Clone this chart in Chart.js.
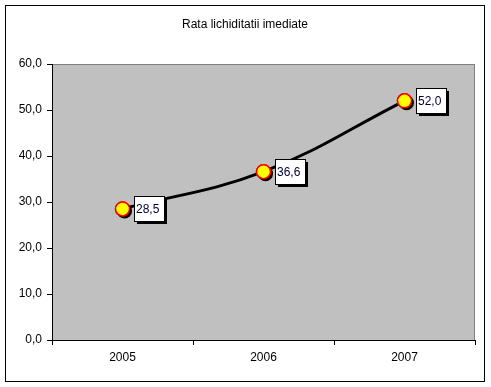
<!DOCTYPE html>
<html>
<head>
<meta charset="utf-8">
<script src="https://cdn.jsdelivr.net/npm/chart.js@4"></script>
<style>
  body { margin: 0; background: #fff; }
  #wrap { width: 491px; height: 387px; }
</style>
</head>
<body>
<div id="wrap"><canvas id="lineChart" width="491" height="387"></canvas></div>
<script>
var years = ["2005", "2006", "2007"];
var rataValues = [28.5, 36.6, 52.0];
var chartTitle = "Rata lichiditatii imediate";

function fmt(v) {
  return v.toFixed(1).replace('.', ',');
}

// frame, title, grey plot area and value boxes
var excelLook = {
  id: 'excelLook',
  beforeDraw: function(chart) {
    var ctx = chart.ctx, a = chart.chartArea;
    ctx.save();
    ctx.fillStyle = '#fff';
    ctx.fillRect(0, 0, chart.width, chart.height);
    ctx.strokeStyle = '#000';
    ctx.lineWidth = 1;
    ctx.strokeRect(5.5, 5.5, 479, 376);
    ctx.fillStyle = '#c0c0c0';
    ctx.fillRect(a.left, a.top, a.right - a.left, a.bottom - a.top);
    ctx.strokeStyle = '#808080';
    ctx.strokeRect(a.left + 0.5, a.top + 0.5, a.right - a.left - 1, a.bottom - a.top);
    ctx.fillStyle = '#000';
    ctx.font = '12px "Liberation Sans", Arial, sans-serif';
    ctx.textAlign = 'center';
    ctx.textBaseline = 'middle';
    ctx.fillText(chartTitle, 245, 25);
    ctx.restore();
  },
  afterDatasetsDraw: function(chart) {
    var ctx = chart.ctx;
    var meta = chart.getDatasetMeta(0);
    ctx.save();
    // marker shadows + markers redrawn on top
    meta.data.forEach(function(pt) {
      ctx.beginPath();
      ctx.arc(pt.x + 2, pt.y + 2, 7.5, 0, Math.PI * 2);
      ctx.fillStyle = '#000';
      ctx.fill();
      ctx.beginPath();
      ctx.arc(pt.x, pt.y, 7, 0, Math.PI * 2);
      ctx.fillStyle = '#ffff00';
      ctx.fill();
      ctx.lineWidth = 1.5;
      ctx.strokeStyle = '#ff0000';
      ctx.stroke();
    });
    ctx.font = '12px "Liberation Sans", Arial, sans-serif';
    ctx.textBaseline = 'middle';
    ctx.textAlign = 'left';
    meta.data.forEach(function(pt, i) {
      var bx = Math.round(pt.x + 11), by = Math.round(pt.y - 13);
      var w = 30, h = 25;
      ctx.fillStyle = '#000';
      ctx.fillRect(bx + 3, by + 3, w, h);
      ctx.fillStyle = '#fff';
      ctx.fillRect(bx, by, w, h);
      ctx.strokeStyle = '#000';
      ctx.lineWidth = 1;
      ctx.strokeRect(bx + 0.5, by + 0.5, w, h);
      ctx.fillStyle = '#000033';
      ctx.fillText(fmt(rataValues[i]), bx + 2, by + h / 2 + 1);
    });
    ctx.restore();
  }
};

var ctx = document.getElementById('lineChart').getContext('2d');
var myChart = new Chart(ctx, {
  type: 'line',
  data: {
    labels: years,
    datasets: [{
      data: rataValues,
      label: "Rata lichiditatii imediate",
      fill: false,
      borderColor: '#000',
      borderWidth: 3,
      tension: 0.4,
      pointRadius: 7,
      pointBackgroundColor: '#ffff00',
      pointBorderColor: '#ff0000',
      pointBorderWidth: 1.5
    }]
  },
  options: {
    responsive: false,
    animation: false,
    layout: { padding: { left: 0, right: 16, top: 64, bottom: 6 } },
    plugins: {
      legend: { display: false },
      tooltip: { enabled: false }
    },
    scales: {
      x: {
        offset: true,
        grid: { offset: true, drawOnChartArea: false, drawTicks: true, tickLength: 5, color: '#000' },
        border: { color: '#000', width: 1 },
        ticks: { color: '#000', font: { family: '"Liberation Sans", Arial', size: 12 }, padding: 5 },
        afterFit: function(s) { s.height = 41; }
      },
      y: {
        min: 0,
        max: 60,
        grid: { drawOnChartArea: false, drawTicks: true, tickLength: 5, color: '#000' },
        border: { color: '#000', width: 1 },
        ticks: {
          stepSize: 10,
          color: '#000',
          padding: 5,
          font: { family: '"Liberation Sans", Arial', size: 12 },
          callback: function(v) { return fmt(v); }
        },
        afterFit: function(s) { s.width = 52; }
      }
    }
  },
  plugins: [excelLook]
});
</script>
</body>
</html>
